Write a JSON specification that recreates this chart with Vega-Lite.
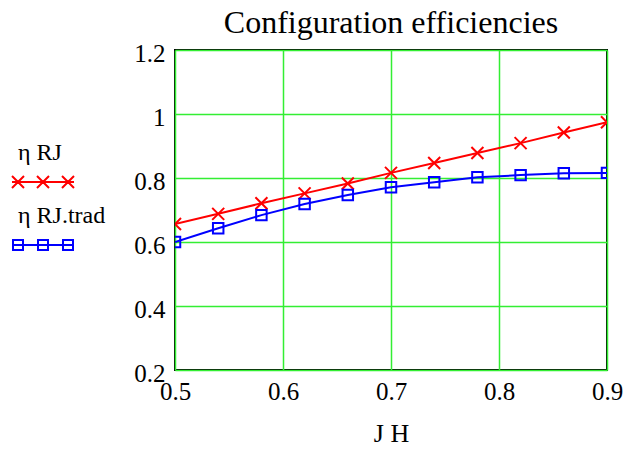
{
  "$schema": "https://vega.github.io/schema/vega-lite/v6.json",
  "width": 432,
  "height": 320,
  "autosize": {"type": "none"},
  "padding": {"left": 175, "top": 50, "right": 25, "bottom": 85},
  "background": "white",
  "title": {
    "text": "Configuration efficiencies",
    "font": "Liberation Serif",
    "fontSize": 32,
    "fontWeight": "normal",
    "color": "black",
    "anchor": "middle",
    "offset": 1
  },
  "config": {
    "view": {"stroke": "black", "strokeWidth": 2},
    "axis": {
      "labelFont": "Liberation Serif",
      "labelFontSize": 25,
      "labelColor": "black",
      "titleFont": "Liberation Serif",
      "titleFontSize": 26,
      "titleFontWeight": "normal",
      "titleColor": "black",
      "domain": false,
      "ticks": false,
      "gridColor": "#33ee33",
      "gridWidth": 1.5,
      "gridOpacity": 1
    },
    "legend": {
      "orient": "none",
      "legendX": -175,
      "legendY": 91,
      "title": null,
      "padding": 0,
      "labelFont": "Liberation Serif",
      "labelFontSize": 24,
      "labelColor": "black",
      "labelOffset": -6,
      "rowPadding": 12,
      "symbolSize": 100,
      "symbolOpacity": 1,
      "symbolStrokeWidth": 2,
      "symbolFillColor": "transparent"
    }
  },
  "data": {
    "values": [
      {"x": 0.50, "y": 0.656, "series": "η RJ"},
      {"x": 0.54, "y": 0.688, "series": "η RJ"},
      {"x": 0.58, "y": 0.721, "series": "η RJ"},
      {"x": 0.62, "y": 0.752, "series": "η RJ"},
      {"x": 0.66, "y": 0.783, "series": "η RJ"},
      {"x": 0.70, "y": 0.816, "series": "η RJ"},
      {"x": 0.74, "y": 0.847, "series": "η RJ"},
      {"x": 0.78, "y": 0.878, "series": "η RJ"},
      {"x": 0.82, "y": 0.909, "series": "η RJ"},
      {"x": 0.86, "y": 0.942, "series": "η RJ"},
      {"x": 0.90, "y": 0.974, "series": "η RJ"},
      {"x": 0.50, "y": 0.600, "series": "η RJ.trad"},
      {"x": 0.54, "y": 0.643, "series": "η RJ.trad"},
      {"x": 0.58, "y": 0.684, "series": "η RJ.trad"},
      {"x": 0.62, "y": 0.719, "series": "η RJ.trad"},
      {"x": 0.66, "y": 0.747, "series": "η RJ.trad"},
      {"x": 0.70, "y": 0.771, "series": "η RJ.trad"},
      {"x": 0.74, "y": 0.787, "series": "η RJ.trad"},
      {"x": 0.78, "y": 0.802, "series": "η RJ.trad"},
      {"x": 0.82, "y": 0.809, "series": "η RJ.trad"},
      {"x": 0.86, "y": 0.815, "series": "η RJ.trad"},
      {"x": 0.90, "y": 0.816, "series": "η RJ.trad"}
    ]
  },
  "encoding": {
    "x": {
      "field": "x",
      "type": "quantitative",
      "scale": {"domain": [0.5, 0.9], "nice": false, "zero": false},
      "axis": {"values": [0.5, 0.6, 0.7, 0.8, 0.9], "format": "~g", "labelPadding": 9, "title": "J H", "titlePadding": 16, "labelFlush": false}
    },
    "y": {
      "field": "y",
      "type": "quantitative",
      "scale": {"domain": [0.2, 1.2], "nice": false, "zero": false},
      "axis": {"values": [0.2, 0.4, 0.6, 0.8, 1.0, 1.2], "format": "~g", "labelPadding": 10, "title": null, "labelOffset": 3}
    }
  },
  "layer": [
    {
      "mark": {"type": "line", "strokeWidth": 2, "clip": true},
      "encoding": {
        "color": {
          "field": "series",
          "type": "nominal",
          "scale": {"domain": ["η RJ", "η RJ.trad"], "range": ["#ff0000", "#0000ff"]}
        }
      }
    },
    {
      "transform": [{"filter": "datum.series === 'η RJ'"}],
      "mark": {"type": "point", "shape": "M-1,-1L1,1M-1,1L1,-1", "size": 144, "filled": false, "strokeWidth": 2, "color": "#ff0000", "opacity": 1, "clip": true}
    },
    {
      "transform": [{"filter": "datum.series === 'η RJ.trad'"}],
      "mark": {"type": "point", "shape": "square", "size": 110, "filled": false, "strokeWidth": 2, "color": "#0000ff", "opacity": 1, "clip": true}
    },
    {
      "mark": {"type": "point", "filled": false, "opacity": 0, "clip": true},
      "encoding": {
        "color": {
          "field": "series",
          "type": "nominal",
          "scale": {"domain": ["η RJ", "η RJ.trad"], "range": ["#ff0000", "#0000ff"]}
        },
        "shape": {
          "field": "series",
          "type": "nominal",
          "scale": {
            "domain": ["η RJ", "η RJ.trad"],
            "range": [
              "M0,5.8H12.4M0,4.6L2.4,7M0,7L2.4,4.6M5,4.6L7.4,7M5,7L7.4,4.6M10,4.6L12.4,7M10,7L12.4,4.6",
              "M0,5.8H12.4M0.2,4.8H2.2V6.8H0.2ZM5.2,4.8H7.2V6.8H5.2ZM10.2,4.8H12.2V6.8H10.2Z"
            ]
          }
        }
      }
    }
  ]
}
